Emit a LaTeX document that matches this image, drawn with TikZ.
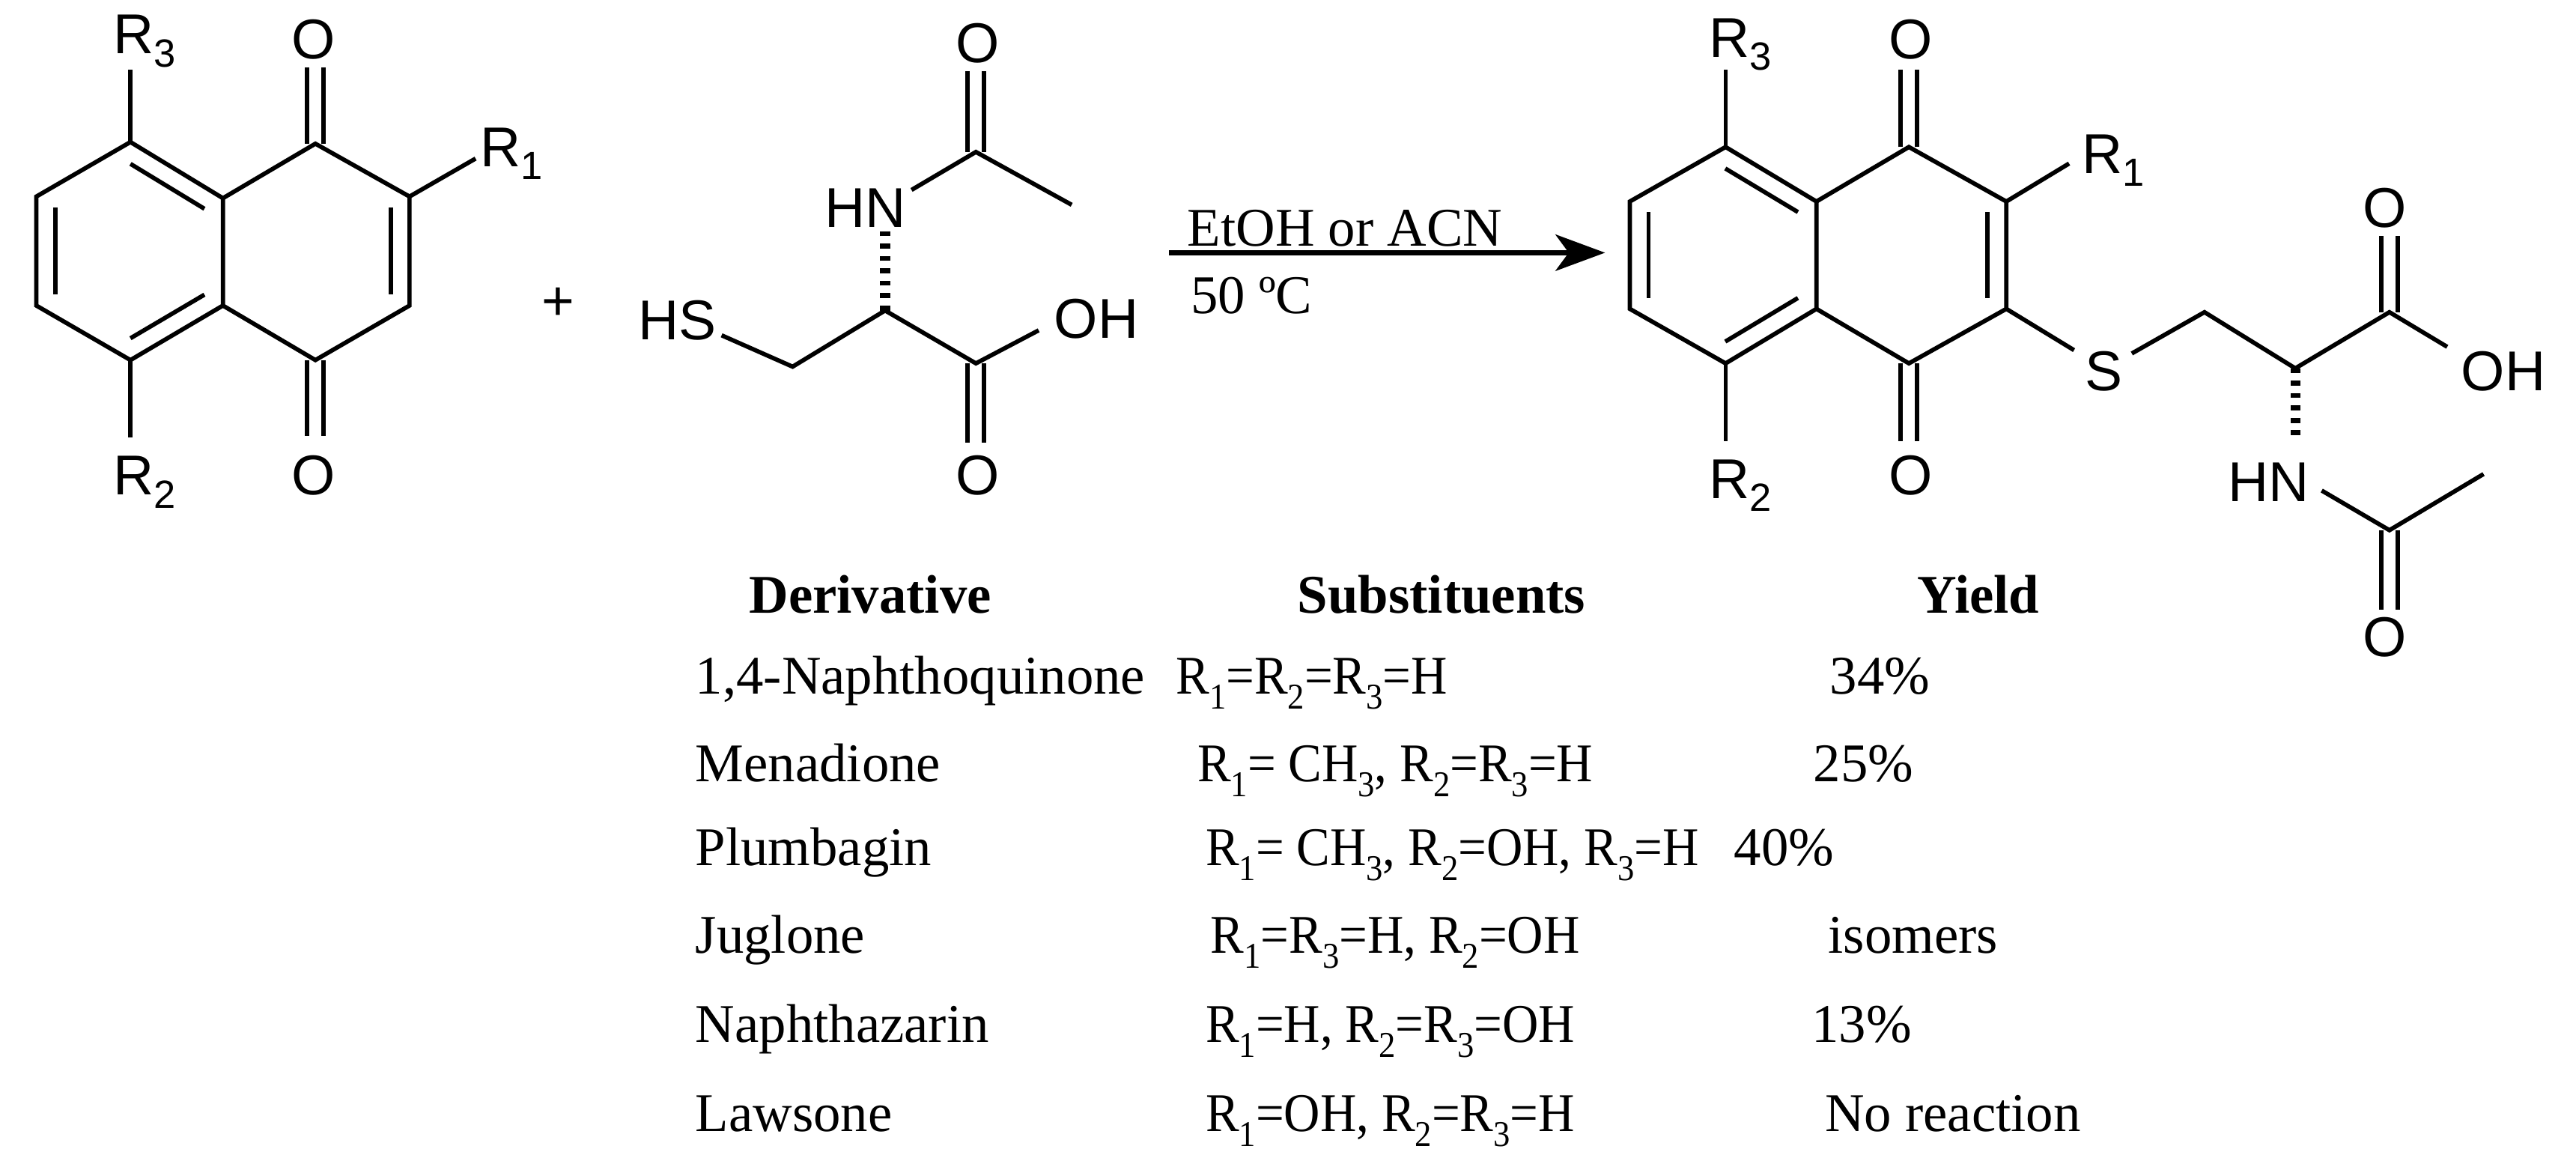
\documentclass[tikz,border=0pt]{standalone}
\usepackage{fontspec}
\setmainfont{Liberation Serif}
\setsansfont{Liberation Sans}
\usetikzlibrary{calc,arrows.meta}
\newcommand\innerb[3]{\draw[bond] ($(#1)!0.2!(#3)$) -- ($(#2)!0.2!(#3)$);}
\newcommand\sbt[1]{\raisebox{-0.28em}{\fontsize{22}{22}\selectfont #1}}
\newcommand\sq[1]{\scalebox{0.92}[1]{#1}}
\begin{document}
\begin{tikzpicture}[x=1pt,y=-1pt,
  bond/.style={line width=2.6pt,line cap=butt,line join=miter},
  hash/.style={line width=6pt,dash pattern=on 3pt off 4.5pt},
  atom/.style={font=\sffamily\fontsize{34}{34}\selectfont,inner sep=0pt},
  tbl/.style={font=\fontsize{33}{33}\selectfont,inner sep=0pt,anchor=base west},
  hdr/.style={font=\bfseries\fontsize{33}{33}\selectfont,inner sep=0pt,anchor=base},
  cond/.style={font=\fontsize{33}{33}\selectfont,inner sep=0pt,anchor=base west}]
\useasboundingbox (0,0) rectangle (1560,701);
% ===== reactant naphthoquinone =====
\coordinate (a8) at (79,86); \coordinate (a7) at (22,119); \coordinate (a6) at (22,185);
\coordinate (a5) at (79,218); \coordinate (a4a) at (135,185); \coordinate (a8a) at (135,120);
\coordinate (a1) at (191,87); \coordinate (a2) at (248,119); \coordinate (a3) at (248,185);
\coordinate (a4) at (191,218);
\coordinate (acL) at (79,152); \coordinate (acR) at (191,152);
\draw[bond] (a8)--(a7)--(a6)--(a5)--(a4a)--(a8a)--cycle;
\draw[bond] (a8a)--(a1)--(a2)--(a3)--(a4)--(a4a);
\innerb{a8}{a8a}{acL} \innerb{a7}{a6}{acL} \innerb{a5}{a4a}{acL} \innerb{a2}{a3}{acR}
\node[atom] (aR3) at (88,25) {R\textsubscript{3}};
\node[atom] (aR2) at (88,292) {R\textsubscript{2}};
\node[atom] (aR1) at (310,93) {R\textsubscript{1}};
\node[atom] (aO1) at (190,24) {O};
\node[atom] (aO4) at (190,288) {O};
\coordinate (aR3b) at (79,42); \coordinate (aR2b) at (79,265); \coordinate (aR1b) at (288,96);
\coordinate (aO1b) at (191,41); \coordinate (aO4b) at (191,264);
\draw[bond] (a8)--(aR3b); \draw[bond] (a5)--(aR2b); \draw[bond] (a2)--(aR1b);
\draw[bond] ($(a1)+(-5,0)$)--($(aO1b)+(-5,0)$); \draw[bond] ($(a1)+(5,0)$)--($(aO1b)+(5,0)$);
\draw[bond] ($(a4)+(-5,0)$)--($(aO4b)+(-5,0)$); \draw[bond] ($(a4)+(5,0)$)--($(aO4b)+(5,0)$);
\node[atom] (plus) at (338,184) {+};
% ===== N-acetylcysteine =====
\node[atom] (nHS) at (410,194) {HS};
\node[atom] (nHN) at (524,126) {HN};
\node[atom] (nOa) at (592,26) {O};
\node[atom] (nOH) at (664,193) {OH};
\node[atom] (nOc) at (592,288) {O};
\coordinate (n1) at (437,203); \coordinate (n2) at (480,222); \coordinate (nca) at (536,188);
\coordinate (nw) at (536,140); \coordinate (nn) at (552,115); \coordinate (nco) at (591,92);
\coordinate (nme) at (649,124); \coordinate (nob) at (591,43); \coordinate (ncc) at (591,220);
\coordinate (noh) at (629,200); \coordinate (nocb) at (591,268);
\draw[bond] (n1)--(n2)--(nca)--(ncc)--(noh);
\draw[hash] (nca)--(nw);
\draw[bond] (nn)--(nco)--(nme);
\draw[bond] ($(nco)+(-5,0)$)--($(nob)+(-5,0)$); \draw[bond] ($(nco)+(5,0)$)--($(nob)+(5,0)$);
\draw[bond] ($(ncc)+(-5,0)$)--($(nocb)+(-5,0)$); \draw[bond] ($(ncc)+(5,0)$)--($(nocb)+(5,0)$);
% ===== arrow =====
\coordinate (arS) at (708,153); \coordinate (arE) at (972,153);
\draw[line width=3pt,-{Stealth[length=30pt,width=22pt,inset=8pt]}] (arS)--(arE);
\node[cond] (c1) at (719,149) {EtOH or ACN};
\node[cond] (c2) at (721,190) {50 ºC};
% ===== product =====
\coordinate (p8) at (1045,89); \coordinate (p7) at (987,122); \coordinate (p6) at (987,187);
\coordinate (p5) at (1045,220); \coordinate (p4a) at (1100,187); \coordinate (p8a) at (1100,122);
\coordinate (p1) at (1156,89); \coordinate (p2) at (1215,122); \coordinate (p3) at (1215,187);
\coordinate (p4) at (1156,220);
\coordinate (pcL) at (1044,154); \coordinate (pcR) at (1157,154);
\draw[bond] (p8)--(p7)--(p6)--(p5)--(p4a)--(p8a)--cycle;
\draw[bond] (p8a)--(p1)--(p2)--(p3)--(p4)--(p4a);
\innerb{p8}{p8a}{pcL} \innerb{p7}{p6}{pcL} \innerb{p5}{p4a}{pcL} \innerb{p2}{p3}{pcR}
\node[atom] (pR3) at (1054,27) {R\textsubscript{3}};
\node[atom] (pR2) at (1054,294) {R\textsubscript{2}};
\node[atom] (pR1) at (1280,97) {R\textsubscript{1}};
\node[atom] (pO1) at (1157,24) {O};
\node[atom] (pO4) at (1157,288) {O};
\coordinate (pR3b) at (1045,42); \coordinate (pR2b) at (1045,267); \coordinate (pR1b) at (1253,99);
\coordinate (pO1b) at (1156,42); \coordinate (pO4b) at (1156,267);
\draw[bond] (p8)--(pR3b); \draw[bond] (p5)--(pR2b); \draw[bond] (p2)--(pR1b);
\draw[bond] ($(p1)+(-5,0)$)--($(pO1b)+(-5,0)$); \draw[bond] ($(p1)+(5,0)$)--($(pO1b)+(5,0)$);
\draw[bond] ($(p4)+(-5,0)$)--($(pO4b)+(-5,0)$); \draw[bond] ($(p4)+(5,0)$)--($(pO4b)+(5,0)$);
\node[atom] (pS) at (1274,225) {S};
\node[atom] (pOa) at (1444,126) {O};
\node[atom] (pOH) at (1516,225) {OH};
\node[atom] (pHN) at (1374,292) {HN};
\node[atom] (pOb) at (1444,386) {O};
\coordinate (ps1) at (1256,212); \coordinate (ps2) at (1291,214); \coordinate (pch) at (1335,189);
\coordinate (pca) at (1390,223); \coordinate (pcc) at (1447,189); \coordinate (pocb) at (1447,143);
\coordinate (poh) at (1482,210); \coordinate (pw) at (1390,267); \coordinate (pn) at (1406,297);
\coordinate (pco) at (1447,321); \coordinate (pme) at (1504,287); \coordinate (pob) at (1447,369);
\draw[bond] (p3)--(ps1); \draw[bond] (ps2)--(pch)--(pca)--(pcc)--(poh);
\draw[bond] ($(pcc)+(-5,0)$)--($(pocb)+(-5,0)$); \draw[bond] ($(pcc)+(5,0)$)--($(pocb)+(5,0)$);
\draw[hash] (pca)--(pw);
\draw[bond] (pn)--(pco)--(pme);
\draw[bond] ($(pco)+(-5,0)$)--($(pob)+(-5,0)$); \draw[bond] ($(pco)+(5,0)$)--($(pob)+(5,0)$);
% ===== table =====
\node[hdr] (h1) at (527,371) {Derivative};
\node[hdr] (h2) at (873,371) {Substituents};
\node[hdr] (h3) at (1198,371) {Yield};
\node[tbl] (d1) at (421,420) {1,4-Naphthoquinone};
\node[tbl] (d2) at (421,473) {Menadione};
\node[tbl] (d3) at (421,524) {Plumbagin};
\node[tbl] (d4) at (421,577) {Juglone};
\node[tbl] (d5) at (421,631) {Naphthazarin};
\node[tbl] (d6) at (421,685) {Lawsone};
\node[tbl] (s1) at (712,420) {\sq{R\sbt{1}=R\sbt{2}=R\sbt{3}=H}};
\node[tbl] (s2) at (725,473) {\sq{R\sbt{1}= CH\sbt{3}, R\sbt{2}=R\sbt{3}=H}};
\node[tbl] (s3) at (730,524) {\sq{R\sbt{1}= CH\sbt{3}, R\sbt{2}=OH, R\sbt{3}=H}};
\node[tbl] (s4) at (733,577) {\sq{R\sbt{1}=R\sbt{3}=H, R\sbt{2}=OH}};
\node[tbl] (s5) at (730,631) {\sq{R\sbt{1}=H, R\sbt{2}=R\sbt{3}=OH}};
\node[tbl] (s6) at (730,685) {\sq{R\sbt{1}=OH, R\sbt{2}=R\sbt{3}=H}};
\node[tbl] (y1) at (1108,420) {34\%};
\node[tbl] (y2) at (1098,473) {25\%};
\node[tbl] (y3) at (1050,524) {40\%};
\node[tbl] (y4) at (1107,577) {isomers};
\node[tbl] (y5) at (1097,631) {13\%};
\node[tbl] (y6) at (1105,685) {No reaction};
\end{tikzpicture}
\end{document}
